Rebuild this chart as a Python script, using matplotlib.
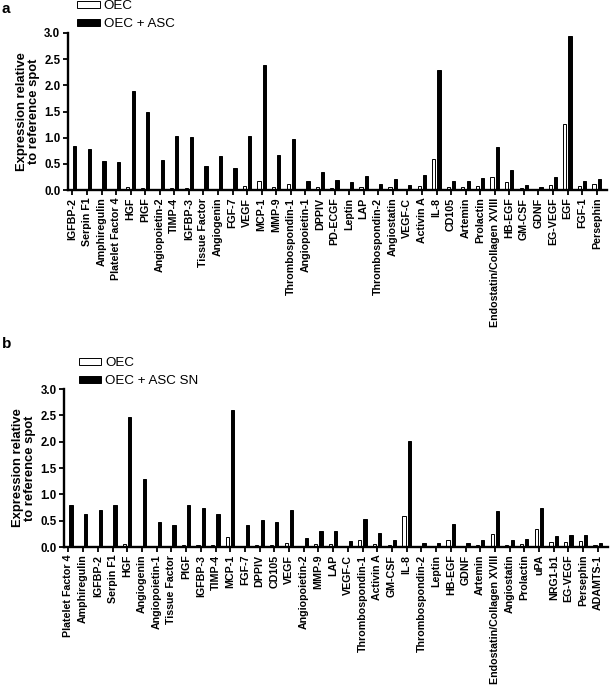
import matplotlib
matplotlib.use("Agg")
import matplotlib.pyplot as plt
import numpy as np

plt.rcParams['font.family'] = ['Liberation Sans', 'DejaVu Sans']

cats_a = ["IGFBP-2", "Serpin F1", "Amphiregulin", "Platelet Factor 4", "HGF", "PIGF",
          "Angiopoietin-2", "TIMP-4", "IGFBP-3", "Tissue Factor", "Angiogenin", "FGF-7",
          "VEGF", "MCP-1", "MMP-9", "Thrombospondin-1", "Angiopoietin-1", "DPPIV",
          "PD-ECGF", "Leptin", "LAP", "Thrombospondin-2", "Angiostatin", "VEGF-C",
          "Activin A", "IL-8", "CD105", "Artemin", "Prolactin", "Endostatin/Collagen XVIII",
          "HB-EGF", "GM-CSF", "GDNF", "EG-VEGF", "EGF", "FGF-1", "Persephin"]
oec_a = [0.01, 0.01, 0.01, 0.01, 0.05, 0.03, 0.01, 0.03, 0.04, 0.01, 0.02, 0.01,
         0.07, 0.18, 0.05, 0.12, 0.01, 0.05, 0.03, 0.02, 0.06, 0.01, 0.06, 0.01,
         0.07, 0.60, 0.05, 0.05, 0.07, 0.25, 0.15, 0.04, 0.01, 0.10, 1.27, 0.08, 0.11]
asc_a = [0.85, 0.79, 0.56, 0.54, 1.89, 1.49, 0.57, 1.03, 1.01, 0.45, 0.65, 0.43,
         1.04, 2.38, 0.67, 0.98, 0.17, 0.34, 0.20, 0.15, 0.27, 0.12, 0.22, 0.10,
         0.28, 2.29, 0.18, 0.18, 0.23, 0.83, 0.39, 0.10, 0.06, 0.25, 2.94, 0.17, 0.22]

cats_b = ["Platelet Factor 4", "Amphiregulin", "IGFBP-2", "Serpin F1", "HGF", "Angiogenin",
          "Angiopoietin-1", "Tissue Factor", "PIGF", "IGFBP-3", "TIMP-4", "MCP-1", "FGF-7",
          "DPPIV", "CD105", "VEGF", "Angiopoietin-2", "MMP-9", "LAP", "VEGF-C",
          "Thrombospondin-1", "Activin A", "GM-CSF", "IL-8", "Thrombospondin-2", "Leptin",
          "HB-EGF", "GDNF", "Artemin", "Endostatin/Collagen XVIII", "Angiostatin",
          "Prolactin", "uPA", "NRG1-b1", "EG-VEGF", "Persephin", "ADAMTS-1"]
oec_b = [0.01, 0.01, 0.01, 0.01, 0.05, 0.02, 0.01, 0.01, 0.04, 0.04, 0.04, 0.19, 0.01,
         0.04, 0.04, 0.08, 0.01, 0.05, 0.05, 0.01, 0.13, 0.06, 0.03, 0.59, 0.01, 0.01,
         0.13, 0.01, 0.04, 0.25, 0.04, 0.06, 0.34, 0.09, 0.10, 0.11, 0.04]
asc_b = [0.79, 0.63, 0.70, 0.80, 2.47, 1.29, 0.47, 0.42, 0.80, 0.74, 0.63, 2.60, 0.41,
         0.52, 0.48, 0.70, 0.17, 0.31, 0.31, 0.11, 0.53, 0.26, 0.13, 2.02, 0.08, 0.08,
         0.43, 0.08, 0.13, 0.68, 0.13, 0.15, 0.75, 0.21, 0.22, 0.22, 0.08]

yticks = [0.0, 0.5, 1.0, 1.5, 2.0, 2.5, 3.0]

fig = plt.figure(figsize=(6.1, 6.9), dpi=100)

def panel(rect, cats, oec, asc, lab2, leg_xy):
    ax = fig.add_axes(rect)
    x = np.arange(len(cats))
    w = 0.22
    b1 = ax.bar(x - 0.19, oec, w, color='white', edgecolor='black', linewidth=0.7)
    b2 = ax.bar(x + 0.17, asc, w, color='black', edgecolor='black', linewidth=0.7)
    ax.set_xlim(-0.3, len(cats) - 0.3)
    ax.set_ylim(0, 3.0)
    ax.set_yticks(yticks)
    ax.set_yticklabels([f"{t:.1f}" for t in yticks], fontsize=8.3, fontweight='bold')
    ax.set_xticks(x)
    ax.set_xticklabels(cats, rotation=90, fontsize=7.7, fontweight='bold')
    for s in ['top', 'right']:
        ax.spines[s].set_visible(False)
    for s in ['left', 'bottom']:
        ax.spines[s].set_linewidth(1.7)
    ax.tick_params(axis='both', direction='out', width=1.3, length=3.5, pad=2)
    ax.set_ylabel("Expression relative\nto reference spot", fontsize=9.4, fontweight='bold',
                  linespacing=1.0, labelpad=3)
    fig.legend([b1, b2], ["OEC", lab2], loc='upper left', bbox_to_anchor=leg_xy,
               bbox_transform=fig.transFigure, frameon=False, fontsize=9.6,
               handlelength=1.7, handleheight=0.45, handletextpad=0.3, labelspacing=0.45,
               borderpad=0, borderaxespad=0)
    return ax

panel([0.1115, 0.7246, 0.8835, 0.2276], cats_a, oec_a, asc_a, "OEC + ASC", (0.126, 1.0))
panel([0.105, 0.2072, 0.892, 0.2290], cats_b, oec_b, asc_b, "OEC + ASC SN", (0.129, 0.482))

fig.text(0.003, 0.997, "a", fontsize=11, fontweight='bold', va='top', ha='left')
fig.text(0.003, 0.512, "b", fontsize=11, fontweight='bold', va='top', ha='left')

fig.savefig("out.png", dpi=100)
